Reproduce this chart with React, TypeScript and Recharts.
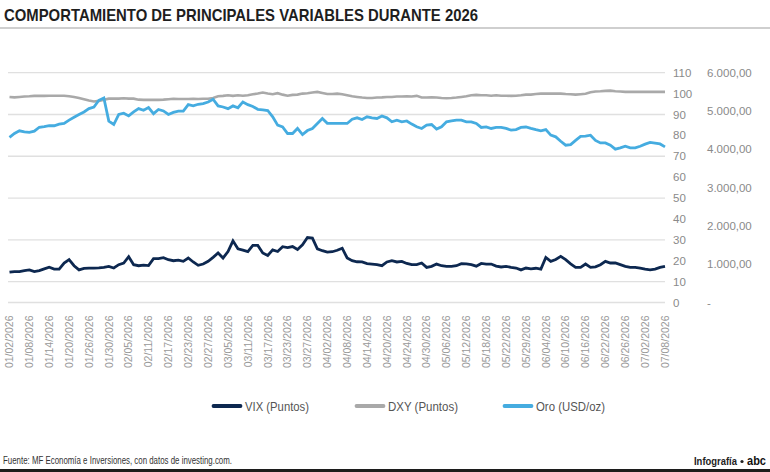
import { CartesianGrid, Line, LineChart, XAxis, YAxis } from "recharts";

// trading days shown on the category axis
const dates = [
  "01/02/2026", "01/05/2026", "01/06/2026", "01/07/2026", "01/08/2026", "01/09/2026", "01/12/2026", "01/13/2026",
  "01/14/2026", "01/15/2026", "01/16/2026", "01/19/2026", "01/20/2026", "01/21/2026", "01/22/2026", "01/23/2026",
  "01/26/2026", "01/27/2026", "01/28/2026", "01/29/2026", "01/30/2026",
  "02/02/2026", "02/03/2026", "02/04/2026", "02/05/2026", "02/06/2026", "02/09/2026", "02/10/2026", "02/11/2026",
  "02/12/2026", "02/13/2026", "02/16/2026", "02/17/2026", "02/18/2026", "02/19/2026", "02/20/2026", "02/23/2026",
  "02/24/2026", "02/25/2026", "02/26/2026", "02/27/2026",
  "03/02/2026", "03/03/2026", "03/04/2026", "03/05/2026", "03/06/2026", "03/09/2026", "03/10/2026", "03/11/2026",
  "03/12/2026", "03/13/2026", "03/16/2026", "03/17/2026", "03/18/2026", "03/19/2026", "03/20/2026", "03/23/2026",
  "03/24/2026", "03/25/2026", "03/26/2026", "03/27/2026", "03/30/2026", "03/31/2026",
  "04/01/2026", "04/02/2026", "04/03/2026", "04/06/2026", "04/07/2026", "04/08/2026", "04/09/2026", "04/10/2026",
  "04/13/2026", "04/14/2026", "04/15/2026", "04/16/2026", "04/17/2026", "04/20/2026", "04/21/2026", "04/22/2026",
  "04/23/2026", "04/24/2026", "04/27/2026", "04/28/2026", "04/29/2026", "04/30/2026",
  "05/01/2026", "05/04/2026", "05/05/2026", "05/06/2026", "05/07/2026", "05/08/2026", "05/11/2026", "05/12/2026",
  "05/13/2026", "05/14/2026", "05/15/2026", "05/18/2026", "05/19/2026", "05/20/2026", "05/21/2026", "05/22/2026",
  "05/26/2026", "05/27/2026", "05/28/2026", "05/29/2026",
  "06/01/2026", "06/02/2026", "06/03/2026", "06/04/2026", "06/05/2026", "06/08/2026", "06/09/2026", "06/10/2026",
  "06/11/2026", "06/12/2026", "06/15/2026", "06/16/2026", "06/17/2026", "06/18/2026", "06/19/2026", "06/22/2026",
  "06/23/2026", "06/24/2026", "06/25/2026", "06/26/2026", "06/29/2026", "06/30/2026",
  "07/01/2026", "07/02/2026", "07/03/2026", "07/06/2026", "07/07/2026", "07/08/2026",
];

const vix = [
  14.5, 14.8, 14.8, 15.3, 15.6, 14.8, 15.3, 16.1, 16.9, 16.0, 16.0, 18.9, 20.5, 17.6, 15.6, 16.3, 16.5, 16.5, 16.6, 16.8,
  17.3, 16.5, 18.1, 18.9, 21.9, 18.1, 17.6, 17.9, 17.7, 21.0, 21.0, 21.5, 20.5, 20.0, 20.3, 19.7, 21.3, 19.4, 17.8, 18.4,
  19.7, 21.6, 23.7, 21.3, 24.4, 29.5, 25.7, 25.1, 24.4, 27.3, 27.3, 23.7, 22.5, 25.2, 24.4, 26.7, 26.3, 26.8, 25.4, 27.6,
  31.1, 30.8, 25.7, 24.8, 24.1, 24.3, 25.0, 26.0, 21.3, 20.0, 19.5, 19.4, 18.6, 18.4, 18.1, 17.6, 19.4, 20.0, 19.4, 19.7,
  18.7, 18.1, 18.1, 18.9, 16.8, 17.3, 18.4, 17.6, 17.3, 17.3, 17.6, 18.6, 18.5, 18.1, 17.4, 18.7, 18.4, 18.4, 17.4, 17.0,
  17.3, 16.8, 16.5, 15.6, 16.5, 16.1, 16.4, 16.0, 21.6, 19.7, 20.6, 22.1, 20.5, 18.5, 16.8, 16.8, 18.4, 16.8, 17.1, 18.1,
  19.7, 18.9, 18.9, 18.1, 17.3, 16.8, 16.8, 16.5, 16.0, 15.6, 16.0, 16.8, 17.3,
];

const dxy = [
  98.4, 98.2, 98.4, 98.6, 98.7, 98.9, 98.9, 98.9, 99.0, 99.0, 99.0, 99.0, 98.7, 98.4, 97.9, 97.3, 96.7, 96.2, 96.5, 97.1,
  97.6, 97.6, 97.6, 97.8, 97.6, 97.6, 97.1, 97.0, 97.0, 97.0, 97.0, 97.1, 97.3, 97.5, 97.4, 97.4, 97.4, 97.5, 97.4, 97.5,
  97.5, 97.9, 98.7, 98.9, 99.2, 98.9, 99.2, 99.0, 99.2, 99.7, 100.0, 100.5, 100.0, 99.7, 100.2, 99.5, 99.0, 99.4, 99.5, 100.0,
  100.2, 100.5, 100.8, 100.3, 99.8, 99.8, 100.0, 99.7, 99.2, 98.7, 98.4, 98.1, 97.9, 97.9, 98.1, 98.2, 98.4, 98.4, 98.6, 98.6,
  98.7, 98.6, 98.9, 98.1, 98.1, 98.2, 98.1, 97.9, 97.8, 97.9, 98.1, 98.4, 98.7, 99.2, 99.4, 99.2, 99.2, 99.0, 99.2, 99.0,
  99.0, 98.9, 99.0, 99.2, 99.5, 99.5, 99.8, 100.0, 100.0, 100.0, 100.0, 100.0, 99.8, 99.7, 99.5, 99.7, 99.9, 100.6, 101.0, 101.1,
  101.3, 101.4, 101.1, 101.0, 100.8, 100.8, 100.8, 100.8, 100.8, 100.8, 100.8, 100.8, 100.8,
];

const oro = [
  4310, 4413, 4484, 4456, 4440, 4473, 4576, 4593, 4620, 4615, 4658, 4675, 4762, 4838, 4909, 4975, 5062, 5105, 5280, 5340,
  4735, 4647, 4909, 4942, 4871, 4975, 5062, 5018, 5089, 4931, 5040, 5002, 4909, 4964, 4996, 4996, 5165, 5133, 5176, 5193,
  5236, 5307, 5133, 5105, 5062, 5133, 5084, 5236, 5165, 5116, 5045, 5029, 5013, 4849, 4631, 4587, 4413, 4413, 4544, 4385,
  4489, 4544, 4675, 4805, 4680, 4675, 4675, 4675, 4675, 4784, 4822, 4778, 4849, 4822, 4805, 4871, 4822, 4718, 4762, 4718,
  4740, 4658, 4587, 4544, 4631, 4647, 4527, 4587, 4718, 4740, 4762, 4762, 4718, 4718, 4675, 4571, 4587, 4544, 4571, 4571,
  4544, 4500, 4516, 4571, 4582, 4544, 4511, 4484, 4516, 4369, 4325, 4211, 4107, 4124, 4233, 4336, 4342, 4369, 4233, 4167,
  4167, 4107, 4004, 4036, 4080, 4036, 4036, 4080, 4135, 4178, 4162, 4140, 4064,
];

const pointTicks = [0, 10, 20, 30, 40, 50, 60, 70, 80, 90, 100, 110];
const goldTicks = [0, 1000, 2000, 3000, 4000, 5000, 6000];

const series = [
  { key: "vix", name: "VIX (Puntos)", color: "#0d2850", x: 212, textWidth: 64 },
  { key: "dxy", name: "DXY (Puntos)", color: "#a9a9a9", x: 355, textWidth: 70 },
  { key: "oro", name: "Oro (USD/oz)", color: "#45ace0", x: 503, textWidth: 69 },
];

const data = dates.map((date, i) => ({ date, vix: vix[i], dxy: dxy[i], oro: oro[i] }));

const sans = '"Liberation Sans", Arial, sans-serif';

// axis ids: 0 = index points (next to the plot), 1 = gold in USD (outer)
const PTS = 0;
const USD = 1;

function formatGold(v: number) {
  if (v === 0) return "-";
  const thousands = Math.floor(v / 1000);
  const rest = String(v % 1000).padStart(3, "0");
  return `${thousands}.${rest},00`;
}

function DateTick({ x, y, payload }: any) {
  return (
    <text
      transform={`translate(${x},${y}) rotate(-90)`}
      x={-5}
      dy="0.36em"
      textAnchor="end"
      fill="#999"
      fontSize={10.5}
      fontFamily={sans}
    >
      {payload.value}
    </text>
  );
}

export default function App() {
  return (
    <div style={{ position: "absolute", left: 0, top: 0, width: 770, height: 472, background: "#fff", overflow: "hidden" }}>
      <div style={{ position: "absolute", left: 0, top: 0 }}>
        <LineChart width={770} height={472} data={data} margin={{ top: 72.7, right: 0, bottom: 99.5, left: 8 }}>
          <CartesianGrid yAxisId={PTS} vertical={false} stroke="#e0e0e0" strokeWidth={1.3} />
          <XAxis
            dataKey="date"
            interval={3}
            tickLine={false}
            axisLine={false}
            height={70}
            padding={{ left: 1.5, right: 0 }}
            tick={<DateTick />}
          />
          <YAxis
            yAxisId={PTS}
            orientation="right"
            domain={[0, 110]}
            ticks={pointTicks}
            width={34}
            tickLine={false}
            axisLine={false}
            tick={{ fill: "#8a8a8a", fontSize: 11.5, fontFamily: sans }}
          />
          <YAxis
            yAxisId={USD}
            orientation="right"
            domain={[0, 6000]}
            ticks={goldTicks}
            width={71}
            tickLine={false}
            axisLine={false}
            tickFormatter={formatGold}
            tick={{ fill: "#8a8a8a", fontSize: 11.5, fontFamily: sans }}
          />
          <Line yAxisId={PTS} dataKey="dxy" stroke="#a9a9a9" strokeWidth={2.6} dot={false} isAnimationActive={false} />
          <Line yAxisId={USD} dataKey="oro" stroke="#45ace0" strokeWidth={2.8} dot={false} isAnimationActive={false} />
          <Line yAxisId={PTS} dataKey="vix" stroke="#0d2850" strokeWidth={2.8} dot={false} isAnimationActive={false} />
        </LineChart>
      </div>

      {/* title, legend and footer; condensed look via textLength */}
      <svg width={770} height={472} style={{ position: "absolute", left: 0, top: 0 }}>
        <text
          x={4}
          y={20.7}
          textLength={474}
          lengthAdjust="spacingAndGlyphs"
          fontFamily={sans}
          fontWeight={700}
          fontSize={17}
          fill="#1e1e1e"
        >
          COMPORTAMIENTO DE PRINCIPALES VARIABLES DURANTE 2026
        </text>
        <rect x={0} y={27} width={770} height={2} fill="#cfcfcf" />

        {series.map((s) => (
          <g key={s.key}>
            <line x1={s.x + 1.5} x2={s.x + 28.5} y1={406} y2={406} stroke={s.color} strokeWidth={3.8} strokeLinecap="round" />
            <text
              x={s.x + 33}
              y={410.5}
              textLength={s.textWidth}
              lengthAdjust="spacingAndGlyphs"
              fontFamily={sans}
              fontSize={13}
              fill="#555"
            >
              {s.name}
            </text>
          </g>
        ))}

        <text
          x={3}
          y={464}
          textLength={229}
          lengthAdjust="spacingAndGlyphs"
          fontFamily={sans}
          fontSize={10}
          fill="#333"
        >
          Fuente: MF Economía e Inversiones, con datos de investing.com.
        </text>
        <text x={694} y={465} textLength={43} lengthAdjust="spacingAndGlyphs" fontFamily={sans} fontWeight={700} fontSize={11} fill="#222">
          Infografía
        </text>
        <circle cx={742} cy={461.5} r={1.6} fill="#222" />
        <text x={747} y={465} textLength={19} lengthAdjust="spacingAndGlyphs" fontFamily={sans} fontWeight={900} fontSize={13} fill="#111">
          abc
        </text>
        <rect x={0} y={469} width={770} height={3} fill="#1c1c1c" />
      </svg>
    </div>
  );
}
